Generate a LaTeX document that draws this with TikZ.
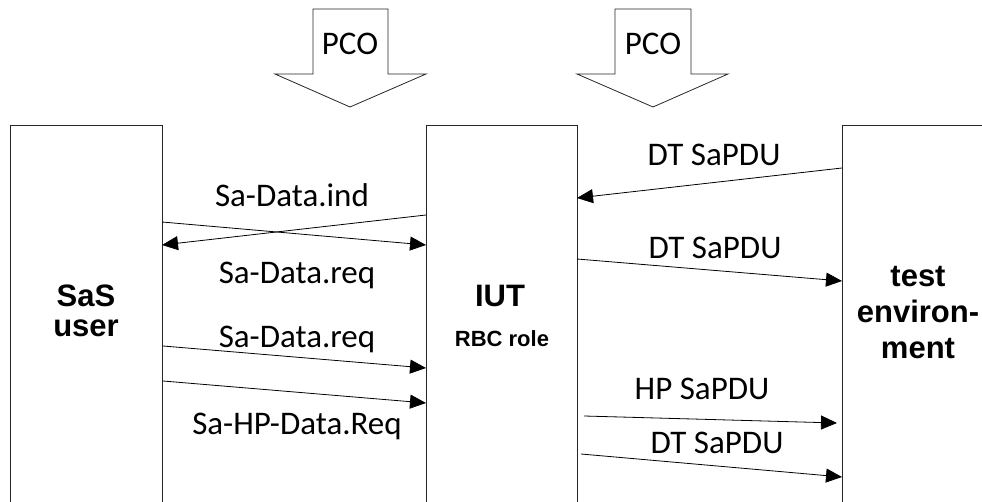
\documentclass[tikz,border=0pt]{standalone}
\usepackage{fontspec}
\setmainfont{Carlito}
\newfontfamily\boxfont{Liberation Sans}
\usetikzlibrary{arrows.meta}

\tikzset{
    frame/.style={line width=1pt, draw=black!85},
    pcoarrow/.style={line width=0.8pt, draw=black!85},
    msg/.style={line width=0.8pt, -{Triangle[length=16pt,width=14pt]}},
    msglabel/.style={font=\fontsize{33}{36}\selectfont, inner sep=0pt, anchor=base},
    boxlabel/.style={font=\boxfont\bfseries\fontsize{31}{30}\selectfont, inner sep=0pt, align=center},
}

\begin{document}
\begin{tikzpicture}[x=1pt,y=-1pt]
    \useasboundingbox (0,0) rectangle (982,502);

    % Open frames of the three parties
    \draw[frame] (10,502) -- (10,126) -- (162,126) -- (162,502);
    \draw[frame] (426,502) -- (426,126) -- (577,126) -- (577,502);
    \draw[frame] (982,126) -- (842,126) -- (842,502);

    % PCO block arrows
    \draw[pcoarrow] (313,9) -- (388,9) -- (388,74) -- (426,74) -- (350,107) -- (275,74) -- (313,74) -- cycle;
    \draw[pcoarrow] (615,9) -- (691,9) -- (691,74) -- (728,74) -- (653,107) -- (577,74) -- (615,74) -- cycle;
    \node[msglabel, anchor=center] (pcoA) at (350,44) {PCO};
    \node[msglabel, anchor=center] (pcoB) at (653,44) {PCO};

    % Party labels
    \node[boxlabel] (user) at (86,311) {SaS\\user};
    \node[boxlabel, anchor=base] (iut) at (500,307) {IUT};
    \node[boxlabel, anchor=base, font=\boxfont\bfseries\fontsize{22}{26}\selectfont] (role) at (502,347) {RBC role};
    \node[boxlabel, font=\boxfont\bfseries\fontsize{31}{36}\selectfont] (env) at (918,313) {test\\environ-\\ment};

    % SaS user <-> IUT
    \coordinate (iutA) at (426,215);
    \coordinate (userA) at (162,245);
    \coordinate (userB) at (162,222);
    \coordinate (iutB) at (426,245);
    \coordinate (userC) at (163,346);
    \coordinate (iutC) at (426,368);
    \coordinate (userD) at (163,381);
    \coordinate (iutD) at (426,403);
    \draw[msg] (iutA) -- (userA);
    \draw[msg] (userB) -- (iutB);
    \draw[msg] (userC) -- (iutC);
    \draw[msg] (userD) -- (iutD);
    \node[msglabel] (indlabel) at (292,207) {Sa-Data.ind};
    \node[msglabel] (reqlabelA) at (297,284) {Sa-Data.req};
    \node[msglabel] (reqlabelB) at (297,348) {Sa-Data.req};
    \node[msglabel] (hpreqlabel) at (297,434) {Sa-HP-Data.Req};

    % IUT <-> test environment
    \coordinate (envE) at (842,168);
    \coordinate (iutE) at (577,198);
    \coordinate (iutF) at (577,259);
    \coordinate (envF) at (842,281);
    \coordinate (iutG) at (584,416);
    \coordinate (envG) at (837,423);
    \coordinate (iutH) at (581,454);
    \coordinate (envH) at (842,477);
    \draw[msg] (envE) -- (iutE);
    \draw[msg] (iutF) -- (envF);
    \draw[msg] (iutG) -- (envG);
    \draw[msg] (iutH) -- (envH);
    \node[msglabel] (dtlabelA) at (714,166) {DT SaPDU};
    \node[msglabel] (dtlabelB) at (715,259) {DT SaPDU};
    \node[msglabel] (hplabel) at (702,399) {HP SaPDU};
    \node[msglabel] (dtlabelC) at (717,453) {DT SaPDU};
\end{tikzpicture}
\end{document}
